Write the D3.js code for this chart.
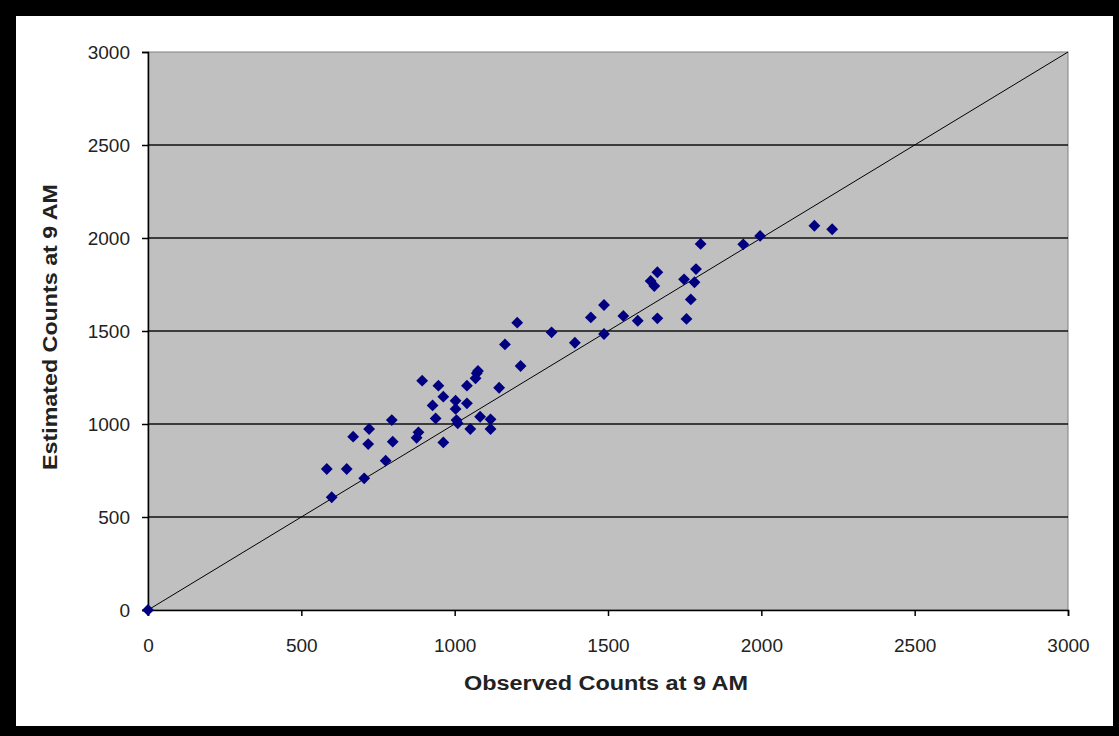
<!DOCTYPE html>
<html><head><meta charset="utf-8">
<script src="https://cdn.jsdelivr.net/npm/d3@7"></script>
<style>
html,body{margin:0;padding:0;background:#000;}
svg{display:block;}
text{font-family:Arial,"Liberation Sans",sans-serif;fill:#222;}
</style></head>
<body>
<script>
const observed = [0,894,947,963,928,1003,1040,1072,1068,1076,1145,1040,1003,938,1006,1010,1083,1117,1117,1051,963,795,721,669,718,798,882,876,775,583,648,705,599,
 1204,1164,1215,1316,1392,1487,1444,1487,1550,1597,1661,1661,1639,1651,1748,1782,1787,1770,1756,1802,1941,1996,2173,2231];
const estimated = [0,1233,1206,1147,1100,1125,1206,1273,1246,1285,1195,1111,1081,1030,1021,1004,1039,1025,973,973,901,1021,973,932,892,905,955,926,803,758,758,708,606,
 1545,1428,1312,1493,1437,1484,1573,1640,1581,1555,1568,1816,1769,1742,1778,1762,1833,1670,1565,1968,1966,2011,2066,2047];
const tickValues = [0,500,1000,1500,2000,2500,3000];
const xTitle = "Observed Counts at 9 AM";
const yTitle = "Estimated Counts at 9 AM";

const W=1119,H=736;
const svg=d3.select("body").append("svg").attr("width",W).attr("height",H);
svg.append("rect").attr("x",16).attr("y",16).attr("width",1097).attr("height",710).attr("fill","#fff");

const L=148,R=1068,T=52,B=610;
const x=d3.scaleLinear().domain([0,3000]).range([L,R]);
const y=d3.scaleLinear().domain([0,3000]).range([B,T]);

svg.append("rect").attr("x",L).attr("y",T).attr("width",R-L).attr("height",B-T)
  .attr("fill","#c0c0c0").attr("stroke","#808080").attr("stroke-width",1);

// gridlines
svg.append("g").selectAll("line").data(tickValues.filter(v=>v>0&&v<3000)).join("line")
  .attr("x1",L).attr("x2",R).attr("y1",d=>y(d)).attr("y2",d=>y(d))
  .attr("stroke","#111").attr("stroke-width",1.6);

// diagonal
svg.append("line").attr("x1",x(0)).attr("y1",y(0)).attr("x2",x(3000)).attr("y2",y(3000))
  .attr("stroke","#000").attr("stroke-width",1);

const fmt=d3.format("d");
// axes
const gx=svg.append("g").attr("transform",`translate(0,${B})`)
  .call(d3.axisBottom(x).tickValues(tickValues).tickFormat(fmt).tickSize(6).tickPadding(23));
gx.select(".domain").attr("stroke","#000").attr("stroke-width",1.5);
gx.selectAll(".tick line").attr("stroke","#000").attr("stroke-width",1.5);
gx.selectAll(".tick text").attr("font-size",19).attr("fill","#222")
  .attr("font-family","Arial, 'Liberation Sans', sans-serif");

const gy=svg.append("g").attr("transform",`translate(${L},0)`)
  .call(d3.axisLeft(y).tickValues(tickValues).tickFormat(fmt).tickSize(6).tickPadding(12));
gy.select(".domain").attr("stroke","#000").attr("stroke-width",1.5);
gy.selectAll(".tick line").attr("stroke","#000").attr("stroke-width",1.5);
gy.selectAll(".tick text").attr("font-size",19).attr("fill","#222")
  .attr("font-family","Arial, 'Liberation Sans', sans-serif");

// points
const pts=observed.map((v,i)=>({x:v,y:estimated[i]}));
svg.append("g").selectAll("path").data(pts).join("path")
  .attr("d",d3.symbol().type(d3.symbolSquare).size(70))
  .attr("transform",d=>`translate(${x(d.x)},${y(d.y)}) rotate(45)`)
  .attr("fill","#000080");

// titles
svg.append("text")
  .attr("transform",`translate(${(L+R)/2 - 2},690)`)
  .attr("text-anchor","middle").attr("font-size",20).attr("font-weight","bold").attr("fill","#222")
  .attr("textLength",284).attr("lengthAdjust","spacingAndGlyphs")
  .text(xTitle);
svg.append("text")
  .attr("transform",`translate(57,${(T+B)/2 - 4}) rotate(-90)`)
  .attr("text-anchor","middle").attr("font-size",20).attr("font-weight","bold").attr("fill","#222")
  .attr("textLength",286).attr("lengthAdjust","spacingAndGlyphs")
  .text(yTitle);
</script>
</body></html>
